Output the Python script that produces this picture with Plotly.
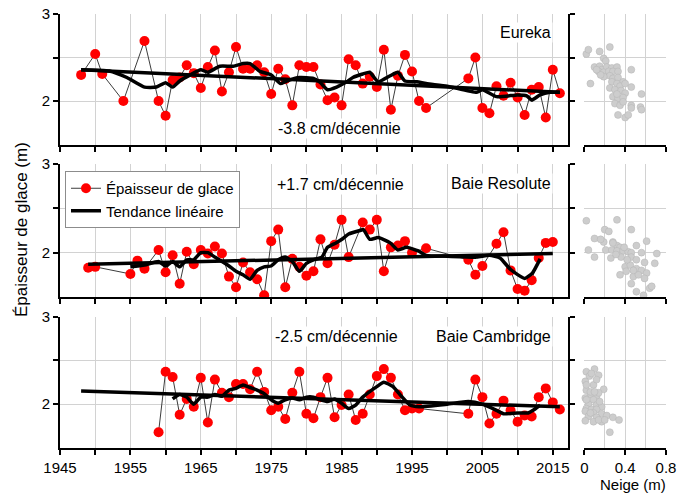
import plotly.graph_objects as go

# ---------------- data ----------------
# Eureka
eur_years = [1948, 1950, 1951, 1954, 1957, 1959, 1960, 1961, 1962, 1963, 1964, 1965, 1966, 1967,
             1968, 1969, 1970, 1971, 1972, 1973, 1974, 1975, 1976, 1977, 1978, 1979, 1980, 1981,
             1982, 1983, 1984, 1985, 1986, 1987, 1988, 1989, 1990, 1991, 1992, 1993, 1994, 1995,
             1996, 1997, 2003, 2004, 2005, 2006, 2007, 2008, 2009, 2010, 2011, 2012, 2013, 2014,
             2015, 2016]
eur_ice = [2.30, 2.54, 2.31, 2.00, 2.69, 2.00, 1.83, 2.24, 2.27, 2.41, 2.32, 2.15, 2.39, 2.58,
           2.11, 2.33, 2.62, 2.37, 2.37, 2.41, 2.33, 2.08, 2.37, 2.25, 1.95, 2.41, 2.39, 2.39,
           2.19, 2.01, 2.04, 1.95, 2.48, 2.41, 2.20, 2.28, 2.16, 2.59, 1.90, 2.29, 2.53, 2.34,
           2.00, 1.92, 2.26, 2.50, 1.92, 1.86, 2.17, 2.06, 2.21, 2.04, 1.84, 2.13, 2.16, 1.81,
           2.36, 2.09]
eur_smooth_years = [1948, 1952, 1954.5, 1957, 1958.7, 1960, 1961, 1962, 1963.5, 1965, 1966, 1967.7,
                    1969.6, 1971, 1972, 1973.4, 1975, 1976.3, 1977.2, 1979, 1981, 1982, 1983,
                    1984.3, 1985.7, 1986.6, 1988, 1989, 1990.2, 1991.9, 1993, 1994, 1995.7, 1997,
                    2000, 2004.2, 2005, 2007, 2010, 2011.3, 2012, 2013.2, 2014.6, 2016]
eur_smooth = [2.36, 2.345, 2.27, 2.16, 2.16, 2.21, 2.16, 2.23, 2.30, 2.36, 2.33, 2.40,
              2.40, 2.43, 2.43, 2.34, 2.30, 2.20, 2.23, 2.27, 2.26, 2.21, 2.13,
              2.16, 2.22, 2.27, 2.31, 2.33, 2.22, 2.29, 2.33, 2.23, 2.22, 2.20,
              2.17, 2.10, 2.13, 2.05, 2.07, 2.06, 2.01, 2.07, 2.10, 2.10]
eur_trend_years = [1948, 2016]
eur_trend = [2.36, 2.10]
eur_snow = [0.02, 0.04, 0.15, 0.25, 0.19, 0.21, 0.10, 0.15, 0.17, 0.22, 0.27, 0.32, 0.14, 0.19,
            0.24, 0.28, 0.33, 0.25, 0.28, 0.33, 0.38, 0.27, 0.32, 0.35, 0.40, 0.46, 0.06, 0.25,
            0.30, 0.36, 0.40, 0.46, 0.56, 0.28, 0.33, 0.38, 0.30, 0.35, 0.46, 0.55, 0.56, 0.46,
            0.33, 0.40, 0.43, 0.38, 0.32, 0.19, 0.16, 0.12]
eur_snow_ice = [2.54, 2.59, 2.57, 2.62, 2.49, 2.46, 2.39, 2.40, 2.36, 2.39, 2.38, 2.39, 2.34, 2.33,
                2.34, 2.34, 2.34, 2.29, 2.26, 2.27, 2.22, 2.22, 2.20, 2.17, 2.20, 2.36, 2.20, 2.15,
                2.13, 2.12, 2.09, 2.16, 2.08, 2.05, 2.03, 2.04, 1.97, 1.95, 1.95, 1.93, 1.90, 1.92,
                1.84, 1.81, 1.84, 1.99, 2.08, 2.28, 2.30, 2.36]

# Baie Resolute
res_years = [1949, 1950, 1955, 1956, 1957, 1959, 1960, 1961, 1962, 1963, 1964, 1965, 1966, 1967,
             1968, 1969, 1970, 1971, 1972, 1973, 1974, 1975, 1976, 1977, 1978, 1979, 1980, 1981,
             1982, 1983, 1984, 1985, 1986, 1988, 1989, 1990, 1991, 1992, 1993, 1994, 1995, 1997,
             2003, 2004, 2005, 2007, 2008, 2009, 2010, 2011, 2012, 2013, 2014, 2015]
res_ice = [1.83, 1.84, 1.76, 1.91, 1.82, 2.03, 1.78, 1.97, 1.65, 2.01, 1.87, 2.03, 1.99, 2.07,
           1.99, 1.73, 1.61, 1.89, 1.78, 1.70, 1.52, 2.13, 2.26, 1.61, 1.93, 1.84, 1.74, 1.79,
           2.15, 1.88, 2.09, 2.37, 1.95, 2.34, 2.26, 2.37, 1.79, 2.06, 2.08, 2.13, 2.00, 2.05,
           1.92, 1.75, 1.85, 2.10, 2.23, 1.80, 1.59, 1.57, 1.69, 1.94, 2.11, 2.12]
res_smooth_years = [1955, 1957, 1959, 1960, 1961, 1962, 1963, 1964, 1965, 1966, 1967, 1968, 1969,
                    1970, 1971, 1972, 1973, 1974, 1975, 1976, 1977, 1978, 1979, 1980, 1981, 1982.2,
                    1983, 1984.2, 1985.2, 1986, 1987.6, 1988.1, 1989, 1990.2, 1991.9, 1993, 1994.2,
                    1995.9, 1997, 2000, 2004.2, 2006, 2007.5, 2009, 2011, 2012.1, 2013.2]
res_smooth = [1.84, 1.86, 1.90, 1.85, 1.90, 1.84, 1.92, 1.92, 2.00, 2.00, 1.95, 1.90, 1.85,
              1.79, 1.75, 1.70, 1.80, 1.84, 1.85, 1.92, 1.95, 1.90, 1.79, 1.88, 1.92, 1.95,
              2.06, 2.11, 2.16, 2.21, 2.25, 2.26, 2.15, 2.17, 2.11, 2.03, 2.06,
              2.02, 1.97, 1.96, 1.95, 1.97, 1.94, 1.81, 1.71, 1.77, 1.93]
res_trend_years = [1949, 2015]
res_trend = [1.87, 1.99]
res_snow = [0.02, 0.32, 0.46, 0.20, 0.24, 0.10, 0.19, 0.28, 0.61, 0.32, 0.35, 0.51, 0.04, 0.21,
            0.27, 0.32, 0.38, 0.43, 0.46, 0.71, 0.10, 0.26, 0.36, 0.46, 0.51, 0.59, 0.69, 0.40,
            0.45, 0.51, 0.41, 0.56, 0.61, 0.35, 0.48, 0.53, 0.59, 0.46, 0.64, 0.66, 0.51, 0.58,
            0.81, 0.16, 0.28, 0.39, 0.56, 0.31, 0.42, 0.48]
res_snow_ice = [2.36, 2.37, 2.26, 2.26, 2.24, 2.16, 2.12, 2.12, 2.13, 2.08, 2.06, 2.08, 2.03, 2.03,
                2.03, 2.02, 2.02, 2.01, 2.00, 1.99, 1.95, 1.94, 1.95, 1.95, 1.92, 1.89, 1.88, 1.84,
                1.86, 1.82, 1.79, 1.80, 1.77, 1.75, 1.73, 1.75, 1.71, 1.65, 1.60, 1.62, 1.56, 1.52,
                1.61, 2.15, 2.11, 2.06, 2.00, 1.98, 1.92, 1.80]

# Baie Cambridge
cam_years = [1959, 1960, 1961, 1962, 1963, 1964, 1965, 1966, 1967, 1968, 1969, 1970, 1971, 1972,
             1973, 1974, 1975, 1976, 1977, 1978, 1979, 1980, 1981, 1982, 1983, 1984, 1985, 1986,
             1987, 1988, 1989, 1990, 1991, 1992, 1993, 1994, 1995, 1996, 2003, 2004, 2005, 2006,
             2007, 2008, 2009, 2010, 2011, 2012, 2013, 2014, 2015, 2016]
cam_ice = [1.68, 2.37, 2.31, 1.88, 2.06, 1.97, 2.30, 1.79, 2.28, 2.13, 2.08, 2.23, 2.23, 2.17,
           2.37, 2.14, 1.93, 1.97, 1.83, 2.13, 2.37, 1.89, 1.84, 2.08, 2.30, 1.85, 1.99, 2.11,
           1.82, 1.89, 2.11, 2.32, 2.40, 2.30, 2.11, 1.93, 1.95, 1.95, 1.89, 2.28, 2.08, 1.78,
           1.89, 2.04, 1.93, 1.80, 1.87, 1.86, 2.08, 2.18, 2.02, 1.94]
cam_smooth_years = [1961, 1962, 1963, 1964, 1965, 1966, 1967, 1968, 1969, 1970, 1971, 1972, 1973,
                    1974, 1975, 1976, 1977, 1978, 1979, 1980, 1981, 1982, 1983, 1984, 1985, 1986,
                    1987, 1988, 1990, 1991, 1992.3, 1993.5, 1994.7, 1996, 2000, 2003, 2005, 2007,
                    2008, 2010, 2011.5, 2012.2, 2013.2]
cam_smooth = [2.06, 2.11, 2.08, 2.00, 2.08, 2.08, 2.11, 2.09, 2.16, 2.18, 2.22, 2.19, 2.16,
              2.12, 2.05, 2.01, 2.05, 2.07, 2.05, 2.08, 2.08, 2.05, 2.03, 2.06, 2.01, 1.95,
              1.99, 2.08, 2.20, 2.25, 2.20, 2.09, 1.99, 1.97, 2.00, 2.03, 2.00, 1.93,
              1.89, 1.90, 1.90, 1.93, 1.99]
cam_trend_years = [1948, 2016]
cam_trend = [2.15, 1.97]
cam_snow = [0.02, 0.10, 0.05, 0.14, 0.01, 0.09, 0.12, 0.19, 0.02, 0.06, 0.12, 0.01, 0.09, 0.04,
            0.12, 0.17, 0.02, 0.07, 0.12, 0.01, 0.09, 0.17, 0.04, 0.12, 0.22, 0.28, 0.34, 0.01,
            0.09, 0.17, 0.25, 0.06, 0.14, 0.02, 0.10, 0.15, 0.06, 0.14, 0.20, 0.07, 0.02]
cam_snow_ice = [2.37, 2.40, 2.32, 2.33, 2.26, 2.22, 2.28, 2.17, 2.16, 2.11, 2.09, 2.07, 2.05, 2.00,
                1.99, 1.97, 1.95, 1.94, 1.94, 1.92, 1.90, 1.89, 1.86, 1.85, 1.87, 1.85, 1.82, 1.81,
                1.80, 1.80, 1.68, 2.14, 2.13, 2.05, 2.14, 2.03, 1.90, 1.82, 1.82, 2.35, 2.22]

year_ticks = list(range(1945, 2016, 5))
year_labels = [str(y) if (y - 1945) % 10 == 0 else "" for y in year_ticks]
ice_ticks = [2, 2.5, 3]
ice_labels = ["2", "", "3"]
snow_ticks = [0, 0.4, 0.8]
snow_labels = ["0", "0.4", "0.8"]
snow_grid = [0.2, 0.6]

panel_names = ["Eureka", "Baie Resolute", "Baie Cambridge"]
trend_texts = ["-3.8 cm/décennie", "+1.7 cm/décennie", "-2.5 cm/décennie"]

# ---------------- layout geometry ----------------
W, H = 683, 495
FONT = "Liberation Sans, Arial, sans-serif"
GRID = "#d2d2d2"


def fx(px):
    return px / W


def fy(py):
    return 1 - py / H


panel_px = [(14, 144.5), (164, 297), (316.5, 448)]
main_x = (60, 568)
scat_x = (584.3, 666)

panels = [
    (eur_years, eur_ice, eur_smooth_years, eur_smooth, eur_trend_years, eur_trend, eur_snow, eur_snow_ice),
    (res_years, res_ice, res_smooth_years, res_smooth, res_trend_years, res_trend, res_snow, res_snow_ice),
    (cam_years, cam_ice, cam_smooth_years, cam_smooth, cam_trend_years, cam_trend, cam_snow, cam_snow_ice),
]

fig = go.Figure()
layout = dict(
    width=W, height=H, margin=dict(l=0, r=0, t=0, b=0, autoexpand=False),
    paper_bgcolor="white", plot_bgcolor="white",
    font=dict(family=FONT, size=15, color="black"),
    showlegend=True,
    legend=dict(x=fx(65), y=fy(171), xanchor="left", yanchor="top",
                bgcolor="white", bordercolor="#8c8c8c", borderwidth=1,
                font=dict(size=15, color="black"), tracegroupgap=0),
)

annotations = []
for i, (yrs, ice, syrs, smooth, tyrs, trend, snow, sice) in enumerate(panels):
    mx = 2 * i + 1
    sx = 2 * i + 2
    mxn = "x" if mx == 1 else f"x{mx}"
    myn = "y" if mx == 1 else f"y{mx}"
    sxn = f"x{sx}"
    syn = f"y{sx}"
    top, bot = panel_px[i]
    ydom = [fy(bot), fy(top)]
    last = (i == 2)

    fig.add_trace(go.Scatter(
        x=yrs, y=ice, mode="lines+markers", name="Épaisseur de glace",
        line=dict(color="#3c3c3c", width=1),
        marker=dict(color="#ff0000", size=10),
        xaxis=mxn, yaxis=myn, showlegend=(i == 0), legendgroup="ice"))
    fig.add_trace(go.Scatter(
        x=tyrs, y=trend, mode="lines", name="Tendance linéaire",
        line=dict(color="black", width=3.5),
        xaxis=mxn, yaxis=myn, showlegend=(i == 0), legendgroup="trend"))
    fig.add_trace(go.Scatter(
        x=syrs, y=smooth, mode="lines", name="moyenne",
        line=dict(color="black", width=3.5, shape="spline", smoothing=0.5),
        xaxis=mxn, yaxis=myn, showlegend=False))
    fig.add_trace(go.Scatter(
        x=snow, y=sice, mode="markers", name="neige", cliponaxis=False,
        marker=dict(color="rgb(205,205,205)", size=7,
                    line=dict(color="rgb(180,180,180)", width=0.5)),
        xaxis=sxn, yaxis=syn, showlegend=False))

    xkey = "xaxis" if mx == 1 else f"xaxis{mx}"
    ykey = "yaxis" if mx == 1 else f"yaxis{mx}"
    layout[xkey] = dict(
        domain=[fx(main_x[0]), fx(main_x[1])], range=[1945, 1945 + (main_x[1] - main_x[0]) / 7.04],
        anchor=myn, tickmode="array", tickvals=year_ticks, ticktext=year_labels,
        showticklabels=last, ticks="outside", ticklen=5, tickwidth=1.5, tickcolor="black",
        showline=True, linecolor="black", linewidth=2, showgrid=True, gridcolor=GRID,
        gridwidth=1, zeroline=False, tickfont=dict(size=15), fixedrange=True, automargin=False)
    layout[ykey] = dict(
        domain=ydom, range=[1.5, 3], anchor=mxn, tickmode="array",
        tickvals=ice_ticks, ticktext=ice_labels, ticks="outside", ticklen=5, tickwidth=1.5,
        tickcolor="black", showline=True, linecolor="black", linewidth=2, mirror="ticks",
        showgrid=True, gridcolor=GRID, gridwidth=1, zeroline=False,
        tickfont=dict(size=15), fixedrange=True, automargin=False)
    layout[f"xaxis{sx}"] = dict(
        domain=[fx(scat_x[0]), fx(scat_x[1])], range=[0, 0.8], anchor=syn,
        tickmode="array", tickvals=snow_ticks, ticktext=snow_labels, showticklabels=last,
        ticks="outside", ticklen=5, tickwidth=1.5, tickcolor="black",
        showline=True, linecolor="black", linewidth=2, showgrid=True, gridcolor=GRID,
        minor=dict(tickmode="array", tickvals=snow_grid, showgrid=True, gridcolor=GRID, ticks=""),
        zeroline=False, tickfont=dict(size=15), fixedrange=True, automargin=False)
    layout[f"yaxis{sx}"] = dict(
        domain=ydom, range=[1.5, 3], anchor=sxn, tickmode="array", tickvals=ice_ticks,
        showticklabels=False, ticks="", showline=False, showgrid=True, gridcolor=GRID,
        zeroline=False, fixedrange=True, automargin=False)

# panel texts
name_y = [32.7, 184, 336.5]
trend_y = [128, 185, 336.5]
trend_x = [276, 275, 273]
for i in range(3):
    annotations.append(dict(
        text=panel_names[i], xref="paper", yref="paper", x=fx(553), y=fy(name_y[i]),
        xanchor="right", yanchor="middle", showarrow=False, bgcolor="white",
        font=dict(size=16, color="black"), borderpad=1))
    annotations.append(dict(
        text=trend_texts[i], xref="paper", yref="paper", x=fx(trend_x[i]), y=fy(trend_y[i]),
        xanchor="left", yanchor="middle", showarrow=False, bgcolor="white",
        font=dict(size=16, color="black"), borderpad=1))

annotations.append(dict(
    text="Épaisseur de glace (m)", xref="paper", yref="paper", x=fx(21), y=fy(230),
    xanchor="center", yanchor="middle", textangle=-90, showarrow=False,
    font=dict(size=17, color="black")))
annotations.append(dict(
    text="Neige (m)", xref="paper", yref="paper", x=fx(633), y=fy(484),
    xanchor="center", yanchor="middle", showarrow=False,
    font=dict(size=15, color="black")))

layout["annotations"] = annotations
fig.update_layout(**layout)
fig.write_html("out.html", config={"displayModeBar": False},
               post_script="document.body.style.margin='0px';")
